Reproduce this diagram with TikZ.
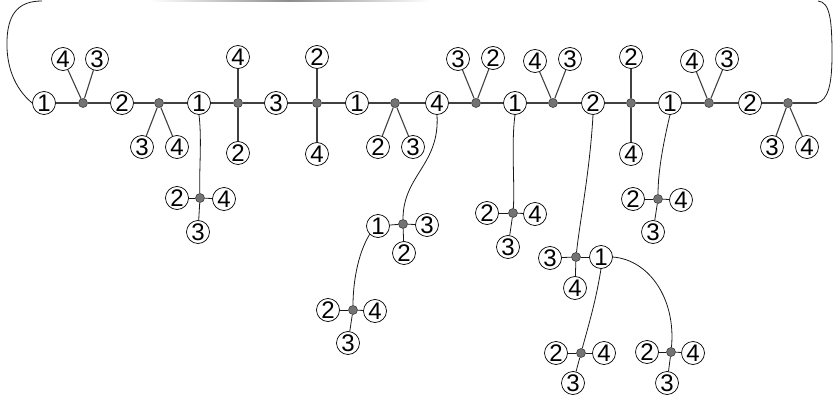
\documentclass[tikz,border=0pt]{standalone}
\usepackage{fontspec}
\setmainfont{Liberation Sans}
\begin{document}
\begin{tikzpicture}[x=1pt,y=-1pt,
    num/.style={circle,draw=black,line width=0.7pt,fill=white,minimum size=23pt,inner sep=0pt,font=\fontsize{24}{24}\selectfont},
    hub/.style={circle,draw=black!75,fill=black!55,line width=0.6pt,minimum size=9pt,inner sep=0pt},
    bond/.style={draw=black!75,line width=1.1pt},
    wire/.style={draw=black!90,line width=0.8pt}]
    \useasboundingbox (0,0) rectangle (833,404);
    % Main chain
    \foreach \n/\x/\lbl in {m1/44/1,m2/122/2,m3/199/1,m4/276/3,m5/357/1,m6/437/4,m7/515/1,m8/593/2,m9/670/1,m10/750/2}
        \node[num] (\n) at (\x,103) {\lbl};
    \foreach \n/\x in {h1/83,h2/159,h3/238,h4/317,h5/395,h6/476,h7/553,h8/631,h9/709,h10/788}
        \node[hub] (\n) at (\x,103) {};
    \coordinate (rend) at (817,103);
    \foreach \a/\b in {m1/h1,h1/m2,m2/h2,h2/m3,m3/h3,h3/m4,m4/h4,h4/m5,m5/h5,h5/m6,m6/h6,h6/m7,m7/h7,h7/m8,m8/h8,h8/m9,m9/h9,h9/m10,m10/h10,h10/rend}
        \draw[bond] (\a) -- (\b);
    % Side groups on the chain
    \foreach \n/\x/\y/\lbl/\h in {u1/63/59/4/h1,u2/97/59/3/h1,d1/142/147/3/h2,d2/177/147/4/h2,
        u3/238/57/4/h3,d3/238/153/2/h3,u4/317/57/2/h4,d4/317/154/4/h4,d5/378/147/2/h5,d6/413/147/3/h5,
        u5/458/59/3/h6,u6/493/58/2/h6,u7/535/61/4/h7,u8/570/59/3/h7,u9/631/57/2/h8,d7/631/154/4/h8,
        u10/692/61/4/h9,u11/727/59/3/h9,d8/772/147/3/h10,d9/807/147/4/h10} {
        \node[num] (\n) at (\x,\y) {\lbl};
        \draw[bond] (\h) -- (\n);
    }
    % Hanging groups
    \foreach \n/\x/\y in {g1/200/198,g2/403/224,g3/353/310,g4/513/213,g5/576/257,g6/581/353,g7/671/352,g8/658/199}
        \node[hub] (\n) at (\x,\y) {};
    \foreach \n/\x/\y/\lbl/\h in {a1/177/198/2/g1,a2/224/199/4/g1,a3/198/232/3/g1,
        b1/378/226/1/g2,b2/427/225/3/g2,b3/404/253/2/g2,
        c1/328/310/2/g3,c2/375/311/4/g3,c3/348/343/3/g3,
        e1/487/213/2/g4,e2/535/214/4/g4,e3/508/247/3/g4,
        f1/550/258/3/g5,f2/601/257/1/g5,f3/575/288/4/g5,
        i1/556/353/2/g6,i2/604/353/4/g6,i3/573/383/3/g6,
        j1/647/352/2/g7,j2/693/353/4/g7,j3/667/383/3/g7,
        k1/633/199/2/g8,k2/681/200/4/g8,k3/653/232/3/g8} {
        \node[num] (\n) at (\x,\y) {\lbl};
        \draw[wire] (\h) -- (\n);
    }
    % Links
    \draw[wire] (m3.south) .. controls (202,140) and (199,170) .. (g1);
    \draw[wire] (m6.south) .. controls (440,165) and (403,175) .. (g2);
    \draw[wire] (b1.south west) .. controls (357,255) and (353,285) .. (g3);
    \draw[wire] (m7.south) .. controls (511,145) and (515,185) .. (g4);
    \draw[wire] (m8.south) .. controls (590,170) and (580,220) .. (g5);
    \draw[wire] (f2.south) .. controls (596,300) and (590,320) .. (g6);
    \draw[wire] (f2.east) .. controls (650,260) and (676,300) .. (g7);
    \draw[wire] (m9.south) .. controls (664,140) and (658,170) .. (g8);
    % Ring closure
    \draw[wire] (m1.west) .. controls (14,88) and (6,65) .. (7,40) .. controls (8,12) and (20,1) .. (42,1);
    \draw[wire] (rend) .. controls (828,100) and (832,85) .. (832,55) .. controls (832,20) and (830,2) .. (818,1);
    \shade[left color=white,right color=black!45] (150,0.4) rectangle (290,1.6);
    \shade[left color=black!45,right color=white] (290,0.4) rectangle (430,1.6);
\end{tikzpicture}
\end{document}
